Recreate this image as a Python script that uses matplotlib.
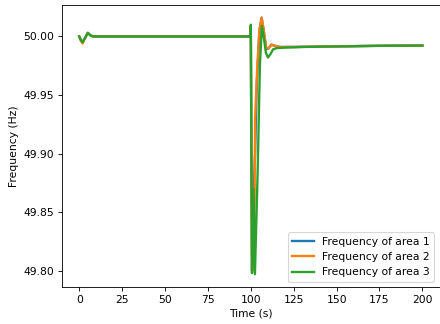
import matplotlib
matplotlib.use('Agg')
import matplotlib.pyplot as plt
from matplotlib.ticker import FormatStrFormatter

# Datos (tiempo en s, frecuencia en Hz)
t1 = [0, 1, 2, 3.5, 5, 6.5, 8, 99.9, 100, 100.7, 101.4, 102.0, 102.5, 103.5,
      105, 106.3, 107.5, 109, 110.5, 112, 114, 117, 125, 150, 175, 200]
f1 = [50.000, 49.997, 49.995, 49.999, 50.003, 50.001, 50.000, 50.000, 50.009,
      49.800, 49.805, 49.880, 49.900, 49.960, 50.005, 50.016, 50.005, 49.989,
      49.990, 49.993, 49.992, 49.991, 49.9910, 49.9915, 49.9920, 49.9922]

t2 = [0, 1, 2, 3.5, 5, 6.5, 8, 99.9, 100, 100.7, 101.6, 102.2, 102.5, 103.8,
      105, 106.3, 107.5, 109, 110.5, 112, 114, 117, 125, 150, 175, 200]
f2 = [50.000, 49.996, 49.994, 49.999, 50.003, 50.001, 50.000, 50.000, 50.009,
      49.800, 49.805, 49.860, 49.930, 49.975, 50.005, 50.016, 50.006, 49.990,
      49.990, 49.993, 49.992, 49.991, 49.9910, 49.9915, 49.9920, 49.9922]

t3 = [0, 1, 2, 3.5, 5, 6.5, 8, 99.9, 100, 100.7, 101.6, 102.4, 104, 105.3,
      106.4, 107.5, 108.8, 110, 111.5, 113, 115, 120, 130, 150, 175, 200]
f3 = [50.000, 49.997, 49.995, 49.999, 50.003, 50.001, 50.000, 50.000, 50.010,
      49.798, 49.870, 49.797, 49.885, 49.975, 50.009, 50.000, 49.986, 49.982,
      49.985, 49.989, 49.990, 49.9905, 49.991, 49.9915, 49.9920, 49.9922]

dpi = 77
fig = plt.figure(figsize=(440 / dpi, 324 / dpi), dpi=dpi)
ax = fig.add_axes([0.141, 0.114, 0.858, 0.871])
ax.plot(t1, f1, linewidth=2.2, label='Frequency of area 1')
ax.plot(t2, f2, linewidth=2.2, label='Frequency of area 2')
ax.plot(t3, f3, linewidth=2.2, label='Frequency of area 3')
ax.set_xlabel('Time (s)')
ax.set_ylabel('Frequency (Hz)')
ax.yaxis.set_major_formatter(FormatStrFormatter('%.2f'))
ax.set_xticks(range(0, 201, 25))
ax.legend(loc='lower right')
fig.savefig('out.png', dpi=dpi)
